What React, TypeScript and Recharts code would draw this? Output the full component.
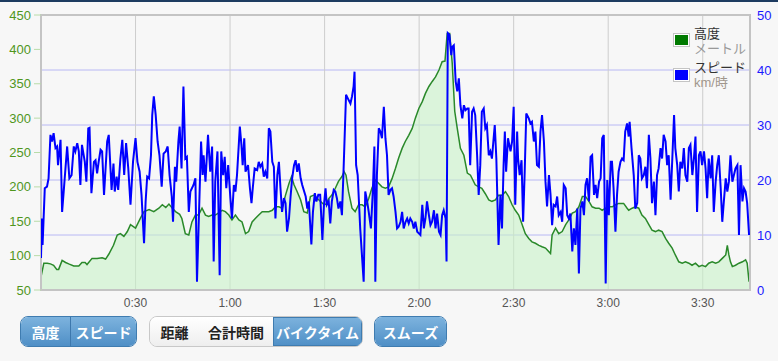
import React from 'react';
import { ComposedChart, Area, Line, XAxis, YAxis, CartesianGrid, ReferenceArea } from 'recharts';

// elevation (m) against elapsed minutes
const altTime = [
  0, 0.9, 2, 3, 4, 5, 5.6, 6.7, 7.8, 8.8, 10.4, 12, 13, 14, 14.6, 16.2, 17.8, 19.4, 20.5, 21.5,
  23, 24.2, 25.2, 26.3, 27.4, 28.4, 30, 31.6, 32.7, 34.3, 35.8, 37.4, 38.5, 39.6, 40.6, 41.7, 42.7, 44, 44.7, 45.8,
  46.9, 47.9, 49, 50, 51.1, 52.2, 53.2, 54.3, 55.3, 56.4, 57.5, 58.5, 59.6, 60.6, 61.7, 62.8, 63.8, 64.9, 65.9, 67,
  68, 69.1, 70.2, 71.2, 72.3, 73.4, 74.4, 75.5, 76.5, 77.6, 78.7, 79.5, 80.3, 81.3, 82.4, 83.4, 84.5, 85.5, 86.6, 87.7,
  88.7, 89.8, 90.5, 91.3, 92.3, 93.4, 94.4, 95.5, 96.2, 96.8, 97.6, 98.7, 99.7, 100.8, 101.9, 102.9, 104, 105, 106.1, 107.2,
  108.2, 109.3, 110.3, 111.4, 112.5, 113.5, 114.6, 115.6, 116.7, 117.8, 118.8, 119.9, 121, 122, 123.1, 124.1, 125.2, 126.3, 127.3, 128.2,
  128.9, 129.7, 130.5, 131.3, 132.1, 133.1, 134.2, 135.3, 136.3, 137.8, 138.9, 139.9, 141, 142.1, 143.1, 144.2, 145.2, 146.3, 147.4, 148.4,
  149.5, 150.5, 151.6, 152.7, 153.7, 154.8, 155.8, 156.9, 158, 159, 160.1, 161.1, 161.7, 162.2, 163.3, 164.3, 165.4, 166.5, 167.5, 168.6,
  169.6, 170.7, 171.8, 172.8, 173.9, 174.9, 176, 177.1, 178.1, 179.2, 180.2, 181.3, 182.3, 183.3, 184.9, 186, 186.5, 187.6, 188.6, 189.7,
  190.7, 191.8, 192.9, 193.9, 195, 196, 197.1, 198.2, 199.2, 200.3, 201.3, 202.4, 203.5, 204.5, 205.6, 206.6, 207.7, 208.8, 209.8, 210.9,
  211.9, 213, 214.1, 215.1, 216.2, 217.3, 217.8, 218.3, 218.8, 219.4, 220.4, 221.5, 222.6, 223.6, 224.1, 224.7,
];
const altitude = [
  69, 89, 89, 88, 86, 80, 80, 93, 90, 88, 85, 85, 90, 90, 87, 96, 96, 97, 95, 102,
  115, 130, 132, 128, 135, 145, 140, 155, 164, 167, 164, 169, 174, 170, 175, 169, 164, 160, 154, 132,
  130, 149, 159, 159, 169, 159, 157, 159, 159, 162, 166, 164, 159, 152, 159, 152, 149, 132, 135, 149,
  154, 159, 164, 164, 164, 166, 171, 171, 169, 188, 205, 215, 203, 193, 181, 164, 162, 186, 188, 183,
  179, 174, 175, 183, 188, 198, 208, 215, 222, 217, 193, 169, 164, 174, 174, 171, 183, 198, 210, 205,
  200, 198, 200, 212, 227, 242, 256, 266, 275, 285, 300, 314, 324, 336, 346, 353, 360, 370, 382, 383,
  423, 423, 380, 310, 285, 256, 246, 220, 217, 203, 200, 198, 190, 181, 179, 181, 188, 188, 193, 186,
  174, 166, 159, 145, 132, 125, 120, 118, 115, 113, 111, 106, 103, 130, 140, 132, 135, 145, 152, 162,
  164, 171, 186, 186, 179, 171, 169, 169, 166, 169, 171, 171, 174, 176, 176, 169, 166, 169, 171, 169,
  159, 154, 145, 137, 135, 137, 135, 125, 118, 111, 101, 91, 89, 91, 89, 86, 89, 84, 86, 84,
  89, 91, 89, 91, 96, 101, 115, 101, 91, 84, 86, 89, 91, 94, 89, 62,
];

// speed (km/h) against elapsed minutes
const speedTime = [
  0, 0.3, 0.5, 1.2, 1.9, 2.4, 3, 3.5, 4, 4.6, 5.1, 5.4, 6.2, 6.7, 7.2, 8.3, 9, 9.7, 10.4, 10.9,
  11.5, 12, 12.5, 13, 13.9, 14.4, 15, 15.4, 16, 16.8, 17.3, 17.8, 18.3, 18.9, 19.4, 20, 21, 21.5, 22.4, 23,
  23.4, 24, 24.5, 25.2, 25.8, 26.4, 27, 27.7, 28.4, 29.2, 30, 30.6, 31.3, 31.9, 32.7, 33.2, 33.7, 34.3, 34.9, 35.3,
  35.8, 36.4, 37, 37.6, 38.3, 38.9, 39.6, 40.2, 40.8, 41.5, 41.9, 42.5, 42.9, 43.6, 44, 44.6, 45.2, 45.8, 46.3, 46.9,
  47.4, 48.4, 49, 49.5, 50, 50.8, 51.3, 51.6, 52.2, 53, 53.7, 54.3, 54.8, 55.3, 56, 56.7, 57.2, 57.8, 58.3, 58.8,
  59.4, 60.1, 60.6, 61.2, 61.7, 62.2, 63.1, 63.6, 64, 64.5, 64.9, 65.7, 66.3, 66.8, 67.2, 67.8, 68.6, 69.1, 69.6, 70.2,
  70.7, 71.2, 71.8, 72.3, 72.8, 73.4, 73.9, 74.4, 75, 75.5, 76, 76.5, 77.1, 77.6, 78.1, 78.7, 79.2, 79.7, 80.3, 80.8,
  81.3, 81.8, 82.4, 82.9, 84, 84.5, 85, 85.8, 86.3, 86.9, 87.4, 88, 88.6, 89.3, 89.8, 90.3, 90.7, 91.3, 91.8, 92.3,
  92.9, 93.4, 93.9, 94.4, 95, 95.5, 96, 96.8, 97.4, 98.2, 98.7, 99.2, 99.5, 100, 100.5, 101.3, 102.4, 102.9, 103.5, 104,
  104.7, 105.3, 105.8, 106.1, 106.6, 107.2, 107.7, 108.2, 108.8, 109.3, 109.8, 110.3, 110.9, 111.4, 111.9, 112.5, 113, 113.5, 114.1, 114.6,
  115.1, 115.7, 116.2, 116.7, 117.2, 117.8, 118.3, 118.8, 119.4, 119.9, 120.4, 121, 121.5, 122, 122.5, 123.1, 123.6, 124.1, 124.7, 125.2,
  125.7, 126.3, 126.8, 127.3, 127.8, 128.4, 128.7, 129.1, 129.6, 130.2, 130.5, 131, 131.6, 132.1, 132.6, 133.1, 133.7, 134.2, 134.7, 135.3,
  135.7, 136.2, 136.8, 137.3, 137.8, 138.4, 138.9, 139.4, 139.9, 140.5, 141, 141.5, 142.1, 142.6, 143.1, 144, 144.5, 145.2, 145.8, 146.3,
  146.8, 147.2, 147.6, 148.2, 149, 149.5, 150, 150.5, 151.1, 151.4, 151.9, 152.5, 153, 153.5, 154, 154.8, 155.3, 155.8, 156.4, 156.9,
  157.4, 158, 158.5, 159, 159.6, 160.1, 160.6, 161.2, 161.7, 162.2, 162.7, 163.3, 163.8, 164.3, 164.9, 165.4, 165.9, 166.5, 167, 167.5,
  168, 168.6, 169.1, 169.6, 170.2, 170.7, 171.2, 171.8, 172.3, 172.8, 173.3, 173.9, 174.4, 174.9, 175.5, 176, 176.5, 177.1, 177.6, 178.1,
  178.6, 179.2, 179.7, 180.2, 180.8, 181.2, 181.7, 182.3, 182.8, 183.3, 183.9, 184.4, 184.9, 185.4, 186, 186.5, 186.8, 187.4, 188.1, 188.6,
  189.2, 189.7, 190.2, 190.7, 191.3, 191.8, 192.3, 192.9, 193.4, 193.9, 194.5, 195, 195.5, 196, 196.6, 197.1, 197.6, 198.2, 198.7, 199.2,
  199.8, 200.3, 200.9, 201.3, 201.9, 202.4, 202.9, 203.5, 204, 204.5, 205.1, 205.6, 206.1, 206.7, 207.2, 207.7, 208.2, 208.8, 209.3, 209.8,
  210.4, 210.9, 211.4, 211.9, 212.5, 213, 213.5, 214.1, 214.6, 215.1, 215.7, 216.2, 216.7, 217.3, 217.8, 218.3, 218.8, 219.4, 219.9, 220.4,
  221, 221.5, 222, 222.6, 223.1, 223.6, 224.1, 224.7,
];
const speed = [
  5.8, 13, 8.2, 18.5, 18.8, 20.3, 28.2, 27, 28.5, 25.8, 26.1, 22.7, 27.3, 14.2, 17.9, 26.1, 20.3, 20.9, 26.1, 25.2,
  26.7, 25.2, 19.1, 26.4, 23.3, 19.7, 29.4, 29.5, 17.6, 23.3, 23.6, 21.2, 23.3, 25.5, 25.2, 17.3, 27, 28.2, 18.2, 23,
  17.9, 20.6, 18.2, 23.9, 27.3, 20.9, 26.7, 22.1, 15.5, 23.3, 27.6, 23.3, 21.5, 17.3, 8.5, 16.1, 20.6, 20.3, 24.5, 31.8,
  35.2, 31.8, 27, 24.5, 18.8, 24.8, 25.2, 26.1, 20.9, 17, 12.4, 22.4, 19.7, 27, 29.7, 22.1, 37, 23.9, 24.2, 14.2,
  17.9, 19.1, 20.3, 1.5, 11.2, 27, 20.9, 24.5, 19.7, 28.2, 21.5, 26.1, 5.2, 19.7, 25.2, 2.7, 25.2, 20.9, 24.2, 18.5,
  22.7, 16.7, 13, 19.1, 17.9, 20.9, 29.7, 26.4, 22.7, 27.6, 21.5, 22.7, 18.5, 15.8, 18.5, 22.1, 21.8, 23.3, 22.4, 23,
  20.6, 21.5, 20.3, 29.4, 28.8, 23.3, 22.4, 13, 20.9, 23.3, 18.5, 14.2, 16.7, 15.8, 10.6, 13, 17, 20.3, 22.7, 23.6,
  21.5, 23, 20.3, 19.1, 17, 14.8, 16.1, 8.3, 14.2, 17.6, 16.1, 17.3, 17.3, 9.1, 15.5, 18.5, 15.5, 16.1, 12.1, 16.1,
  18.2, 17.9, 16.7, 14.8, 16.1, 13.6, 21.5, 35.5, 34.8, 33.9, 35.2, 37, 39.7, 22.7, 20.9, 11.2, 1.5, 17.9, 16.1, 14.2,
  11.2, 17.9, 26.1, 1.5, 20.9, 29.4, 28.8, 27.6, 33.3, 27.6, 24.5, 17.3, 18.2, 18.5, 17, 14.2, 11.2, 11.5, 12.4, 14.2,
  11.2, 12.4, 13, 12.1, 13, 12.4, 11.2, 12.4, 10.6, 10.3, 10, 15.5, 11.2, 13, 16.1, 13.6, 11.8, 12.4, 14.5, 11.2,
  13.9, 10.6, 10, 13.6, 14.5, 13, 5.2, 46.7, 46.4, 42.7, 44.2, 44.5, 37.9, 36.1, 38.5, 33.6, 31.2, 33.6, 32.7, 33,
  33, 22.7, 32.4, 33, 31.8, 24.5, 17.3, 22.7, 32.4, 33, 29.4, 30, 24.5, 25.2, 23.9, 30, 23.9, 8.2, 17.3, 11.2,
  22.7, 28.8, 21.5, 27.6, 25.2, 27, 33.3, 15.5, 28.8, 23.9, 20.9, 23.6, 12.4, 21.5, 32.1, 31.2, 30.3, 30.6, 27, 28.8,
  22.7, 22.4, 28.8, 31.8, 27, 19.7, 15.2, 20.9, 17.3, 11.8, 15.5, 15.2, 17, 13.6, 14.2, 12.4, 19.1, 18.5, 13.6, 13,
  13.9, 7, 11.2, 8.2, 14.8, 3, 14.8, 16.1, 13.6, 19.1, 20.3, 16.1, 24.2, 24.5, 17.3, 19.1, 16.7, 19.7, 20.3, 27.6,
  28.2, 1.2, 20, 13.6, 23.3, 23.3, 18.5, 10.6, 17.3, 21.5, 23.3, 23.9, 23.6, 28.8, 30.3, 27.9, 30.6, 25.8, 20.9, 14.8,
  15.8, 24.5, 23.9, 20.3, 20.9, 22.4, 18.5, 28.2, 23.9, 15.8, 19.7, 13.6, 20.9, 22.1, 25.8, 23.9, 28.2, 27, 22.7, 24.5,
  16.4, 23.3, 31.8, 25.8, 22.7, 17.9, 23.3, 22.1, 25.8, 20.9, 19.7, 25.8, 26.4, 20.9, 23.9, 27.9, 14.2, 24.5, 25.2, 22.7,
  25.2, 22.1, 16.7, 23.9, 20.3, 24.5, 14.2, 19.7, 22.7, 24.5, 18.5, 12.4, 16.1, 20.3, 17.9, 19.7, 24.5, 19.7, 20.9, 22.1,
  22.7, 10, 22.7, 16.1, 18.5, 17.9, 15.8, 10,
];

const timeTicks = [30, 60, 90, 120, 150, 180, 210];
const altTicks = [50, 100, 150, 200, 250, 300, 350, 400, 450];
const speedTicks = [0, 10, 20, 30, 40, 50];

const altData = altTime.map((t, i) => ({ t, alt: altitude[i] }));
const speedData = speedTime.map((t, i) => ({ t, spd: speed[i] }));

const fmtTime = (v: number) => `${Math.floor(v / 60)}:${String(v % 60).padStart(2, '0')}`;

const jp = '"Liberation Sans", Arial, "Noto Sans CJK JP", sans-serif';

const blueBtn: React.CSSProperties = {
  background: 'linear-gradient(#7db3de, #4f8fc6)',
  color: '#fff',
};
const whiteBtn: React.CSSProperties = {
  background: 'linear-gradient(#ffffff, #eeeeee)',
  color: '#222',
};

function Btn({ label, w, style, divider }: { label: string; w: number; style: React.CSSProperties; divider?: boolean }) {
  return (
    <div
      style={{
        ...style,
        width: w,
        height: '100%',
        display: 'flex',
        alignItems: 'center',
        justifyContent: 'center',
        fontWeight: 700,
        fontSize: 14,
        borderLeft: divider ? '1px solid #3d78ad' : undefined,
        boxSizing: 'border-box',
      }}
    >
      {label}
    </div>
  );
}

function Group({ left, children, border }: { left: number; children: React.ReactNode; border: string }) {
  return (
    <div
      style={{
        position: 'absolute',
        left,
        top: 316,
        height: 31,
        display: 'flex',
        border: `1px solid ${border}`,
        borderRadius: 8,
        overflow: 'hidden',
        boxSizing: 'border-box',
      }}
    >
      {children}
    </div>
  );
}

function LegendBox({ color }: { color: string }) {
  return (
    <div style={{ width: 17, height: 14, border: '1px solid #c4c4c4', boxSizing: 'border-box', padding: 1, background: '#fff' }}>
      <div style={{ width: '100%', height: '100%', background: color }} />
    </div>
  );
}

export default function App() {
  return (
    <div style={{ position: 'absolute', left: 0, top: 0, width: 778, height: 361, background: '#f7f7f7', fontFamily: jp, overflow: 'hidden' }}>
      <div style={{ position: 'absolute', left: 0, top: 0, width: 778, height: 2, background: '#1d3b60' }} />
      <div style={{ position: 'absolute', left: 0, top: 0 }}>
        <ComposedChart width={778} height={320} margin={{ top: 15, right: 0, bottom: 0, left: 0 }}>
          <CartesianGrid yAxisId="spd" vertical={false} stroke="#b8b8f4" />
          <CartesianGrid yAxisId="spd" horizontal={false} stroke="#cdcdcd" />
          <XAxis
            type="number"
            dataKey="t"
            domain={[0, 225]}
            ticks={timeTicks}
            tickFormatter={fmtTime}
            allowDataOverflow
            axisLine={false}
            tickLine={false}
            height={30}
            tick={{ fontSize: 12, fill: '#555', fontFamily: jp }}
          />
          <YAxis
            yAxisId="alt"
            domain={[50, 450]}
            ticks={altTicks}
            interval={0}
            width={41}
            axisLine={false}
            tickLine={{ stroke: '#b8dca8' }}
            tickSize={7}
            tickMargin={3}
            tick={{ fontSize: 13, fill: '#4f961c', fontFamily: jp }}
          />
          <YAxis
            yAxisId="spd"
            orientation="right"
            domain={[0, 50]}
            ticks={speedTicks}
            interval={0}
            width={28}
            axisLine={false}
            tickLine={false}
            tickSize={4}
            tickMargin={3}
            tick={{ fontSize: 13, fill: '#1a1aff', fontFamily: jp }}
          />
          <Area
            yAxisId="alt"
            data={altData}
            dataKey="alt"
            type="linear"
            stroke="#2a892a"
            strokeWidth={1.5}
            fill="#c8f2c8"
            fillOpacity={0.6}
            dot={false}
            activeDot={false}
            isAnimationActive={false}
          />
          <Line
            yAxisId="spd"
            data={speedData}
            dataKey="spd"
            type="linear"
            stroke="#0000ff"
            strokeWidth={2}
            dot={false}
            activeDot={false}
            isAnimationActive={false}
          />
          <ReferenceArea
            yAxisId="spd"
            x1={0}
            x2={225}
            y1={0}
            y2={50}
            fill="none"
            stroke="#c4c4c4"
            strokeWidth={2}
            ifOverflow="visible"
          />
        </ComposedChart>
      </div>

      <div style={{ position: 'absolute', left: 673, top: 27, fontSize: 13, lineHeight: '13px' }}>
        <div style={{ display: 'flex', alignItems: 'flex-start' }}>
          <div style={{ marginTop: 6 }}><LegendBox color="#007a00" /></div>
          <div style={{ marginLeft: 4 }}>
            <div style={{ color: '#333' }}>高度</div>
            <div style={{ color: '#999', marginTop: 2 }}>メートル</div>
          </div>
        </div>
        <div style={{ display: 'flex', alignItems: 'flex-start', marginTop: 6 }}>
          <div style={{ marginTop: 7 }}><LegendBox color="#0000ff" /></div>
          <div style={{ marginLeft: 4 }}>
            <div style={{ color: '#333' }}>スピード</div>
            <div style={{ color: '#a0968c', marginTop: 2 }}>km/時</div>
          </div>
        </div>
      </div>

      <Group left={20} border="#3f7cb0">
        <Btn label="高度" w={49} style={blueBtn} />
        <Btn label="スピード" w={66} style={blueBtn} divider />
      </Group>
      <Group left={149} border="#c8c8c8">
        <Btn label="距離" w={49} style={whiteBtn} />
        <Btn label="合計時間" w={74} style={{ ...whiteBtn, borderLeft: '1px solid #d0d0d0' }} />
        <Btn label="バイクタイム" w={89} style={{ ...blueBtn, boxShadow: 'inset 0 0 0 1px #3f7cb0' }} />
      </Group>
      <Group left={374} border="#3f7cb0">
        <Btn label="スムーズ" w={71} style={blueBtn} />
      </Group>
    </div>
  );
}
